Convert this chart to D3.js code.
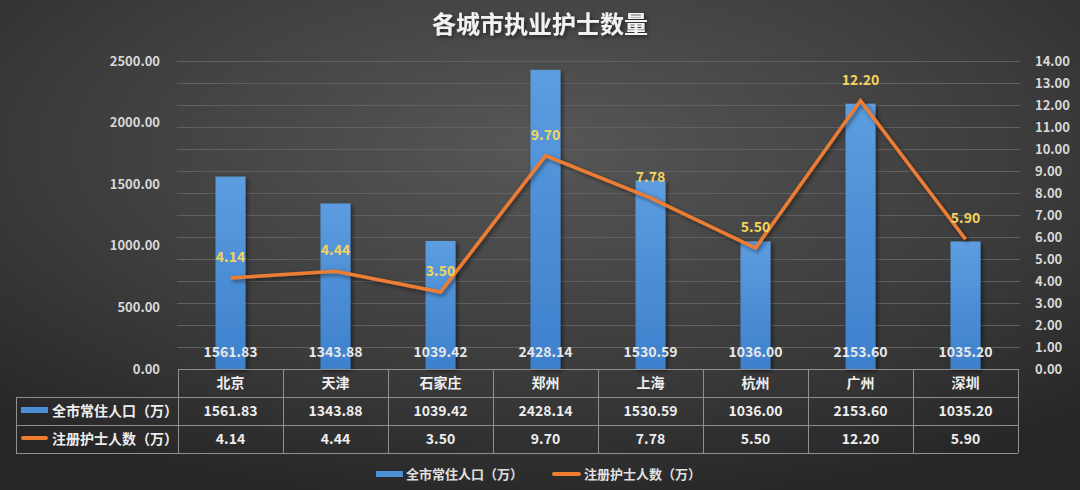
<!DOCTYPE html>
<html><head><meta charset="utf-8">
<script src="https://cdn.jsdelivr.net/npm/d3@7"></script>
<style>html,body{margin:0;padding:0;background:#333;}svg{display:block;}</style>
</head><body>
<svg id="c" width="1080" height="490"></svg>
<script>
const cities = ["北京","天津","石家庄","郑州","上海","杭州","广州","深圳"];
const population = [1561.83,1343.88,1039.42,2428.14,1530.59,1036.00,2153.60,1035.20];
const nurses = [4.14,4.44,3.50,9.70,7.78,5.50,12.20,5.90];
const leftTicks = [0,500,1000,1500,2000,2500];
const rightTicks = [0,1,2,3,4,5,6,7,8,9,10,11,12,13,14];
const seriesNames = ["全市常住人口（万）","注册护士人数（万）"];
const title = "各城市执业护士数量";

const W=1080,H=490;
const font = "'Noto Sans CJK SC','Noto Sans',sans-serif";
const svg = d3.select("#c");
const defs = svg.append("defs");
const bg = defs.append("radialGradient").attr("id","bg").attr("cx","50%").attr("cy","30%").attr("r","75%");
bg.append("stop").attr("offset","0%").attr("stop-color","#575757");
bg.append("stop").attr("offset","60%").attr("stop-color","#3c3c3c");
bg.append("stop").attr("offset","100%").attr("stop-color","#262626");
const bar = defs.append("linearGradient").attr("id","bar").attr("x1",0).attr("y1",0).attr("x2",0).attr("y2",1);
bar.append("stop").attr("offset","0%").attr("stop-color","#5c9de0");
bar.append("stop").attr("offset","100%").attr("stop-color","#3d80cc");
const sh = defs.append("filter").attr("id","sh").attr("x","-30%").attr("y","-30%").attr("width","160%").attr("height","160%");
sh.append("feDropShadow").attr("dx",2).attr("dy",2).attr("stdDeviation",2).attr("flood-color","#000").attr("flood-opacity",0.5);

svg.append("rect").attr("width",W).attr("height",H).attr("fill","url(#bg)");

const x = d3.scaleBand().domain(cities).range([178,1018]);
const yL = d3.scaleLinear().domain([0,2500]).range([369,61]);
const yR = d3.scaleLinear().domain([0,14]).range([369,61]);
const f2 = d3.format(".2f");

// title
svg.append("text").attr("x",540).attr("y",33).attr("text-anchor","middle")
  .attr("font-family",font).attr("font-weight","bold").attr("font-size",24)
  .attr("fill","#f2f2f2").attr("filter","url(#sh)").text(title);

// gridlines
svg.append("g").selectAll("line").data(rightTicks.slice(1)).join("line")
  .attr("x1",177).attr("x2",1020).attr("y1",d=>Math.round(yR(d))+0.5).attr("y2",d=>Math.round(yR(d))+0.5)
  .attr("stroke","#606060").attr("stroke-width",1);

// axes
const gl = svg.append("g").attr("transform","translate(160,0)")
  .call(d3.axisLeft(yL).tickValues(leftTicks).tickFormat(f2).tickSize(0).tickPadding(0));
const gr = svg.append("g").attr("transform","translate(1035,0)")
  .call(d3.axisRight(yR).tickValues(rightTicks).tickFormat(f2).tickSize(0).tickPadding(0));
[gl,gr].forEach(g=>{
  g.select(".domain").remove();
  g.selectAll("text").attr("font-family",font).attr("font-weight","bold").attr("font-size",13).attr("fill","#d9d9d9");
});

// bars
svg.append("g").attr("filter","url(#sh)").selectAll("rect").data(cities).join("rect")
  .attr("x",(d)=>x(d)+x.bandwidth()/2-15).attr("width",30)
  .attr("y",(d,i)=>yL(population[i])).attr("height",(d,i)=>yL(0)-yL(population[i]))
  .attr("fill","url(#bar)");

// bar labels
svg.append("g").selectAll("text").data(cities).join("text")
  .attr("x",d=>x(d)+x.bandwidth()/2).attr("y",357).attr("text-anchor","middle")
  .attr("font-family",font).attr("font-weight","bold").attr("font-size",14).attr("fill","#e8e8e8")
  .text((d,i)=>f2(population[i]));

// line
const line = d3.line().x((d,i)=>x(cities[i])+x.bandwidth()/2).y(d=>yR(d));
svg.append("path").datum(nurses).attr("d",line).attr("fill","none")
  .attr("stroke","#ed7d31").attr("stroke-width",3.5).attr("stroke-linejoin","miter").attr("filter","url(#sh)");

svg.append("g").selectAll("text").data(nurses).join("text")
  .attr("x",(d,i)=>x(cities[i])+x.bandwidth()/2).attr("y",d=>yR(d)-16).attr("text-anchor","middle")
  .attr("font-family",font).attr("font-weight","bold").attr("font-size",14).attr("fill","#f5d55b")
  .text(d=>f2(d));

// table
const rows=[369,397,425,453];
const tc="#8f8f8f";
const tg = svg.append("g");
tg.append("line").attr("x1",178).attr("x2",1018).attr("y1",rows[0]+0.5).attr("y2",rows[0]+0.5).attr("stroke",tc);
rows.slice(1).forEach(r=>tg.append("line").attr("x1",16).attr("x2",1018).attr("y1",r+0.5).attr("y2",r+0.5).attr("stroke",tc));
const vx = cities.map(c=>x(c)).concat([1018]);
tg.selectAll("line.v").data(vx).join("line").attr("class","v")
  .attr("x1",d=>Math.round(d)+0.5).attr("x2",d=>Math.round(d)+0.5).attr("y1",rows[0]).attr("y2",rows[3]).attr("stroke",tc);
tg.append("line").attr("x1",16.5).attr("x2",16.5).attr("y1",rows[1]).attr("y2",rows[3]).attr("stroke",tc);

const cellText = (g,xs,y,vals)=>g.append("g").selectAll("text").data(vals).join("text")
  .attr("x",(d,i)=>xs(i)).attr("y",y).attr("text-anchor","middle")
  .attr("font-family",font).attr("font-weight","bold").attr("font-size",14).attr("fill","#eeeeee").text(d=>d);
const cx = i=>x(cities[i])+x.bandwidth()/2;
cellText(tg,cx,388,cities);
cellText(tg,cx,416,population.map(f2));
cellText(tg,cx,444,nurses.map(f2));

// row headers
tg.append("rect").attr("x",21).attr("y",407).attr("width",27).attr("height",6).attr("fill","#4a8fd8");
tg.append("rect").attr("x",21).attr("y",436).attr("width",27).attr("height",4).attr("rx",2).attr("fill","#ed7d31");
[[seriesNames[0],416],[seriesNames[1],444]].forEach(([t,y])=>tg.append("text").attr("x",52).attr("y",y)
  .attr("font-family",font).attr("font-weight","bold").attr("font-size",14).attr("fill","#eeeeee").text(t));

// legend
const lg = svg.append("g");
lg.append("rect").attr("x",376).attr("y",471).attr("width",27).attr("height",6).attr("fill","#4a8fd8");
lg.append("text").attr("x",406).attr("y",479).attr("font-family",font).attr("font-weight","bold").attr("font-size",13).attr("fill","#e0e0e0").text(seriesNames[0]);
lg.append("rect").attr("x",552).attr("y",472).attr("width",29).attr("height",4).attr("rx",2).attr("fill","#ed7d31");
lg.append("text").attr("x",584).attr("y",479).attr("font-family",font).attr("font-weight","bold").attr("font-size",13).attr("fill","#e0e0e0").text(seriesNames[1]);
</script>
</body></html>
